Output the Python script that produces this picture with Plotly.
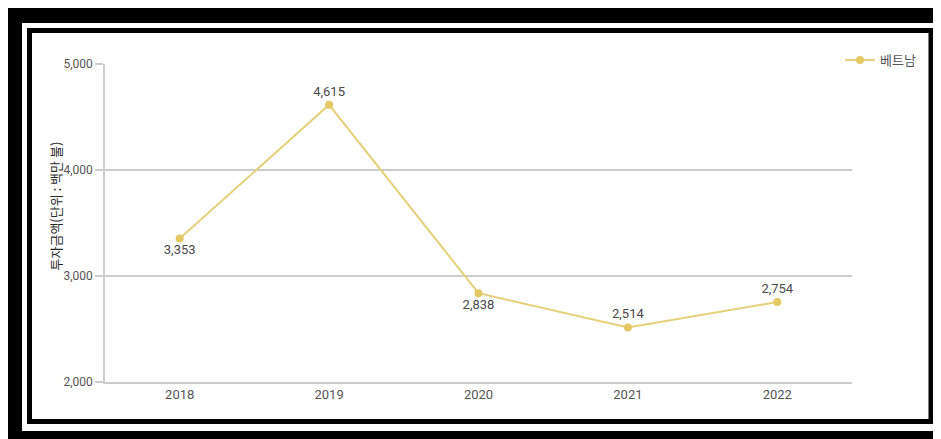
import plotly.graph_objects as go

years = ["2018", "2019", "2020", "2021", "2022"]
vietnam = [3353, 4615, 2838, 2514, 2754]
series_name = "베트남"
y_title = "투자금액(단위 : 백만 불)"
y_ticks = [2000, 3000, 4000, 5000]

# page body has an 8px margin; figure sized to fit the window
OFF = 8
W, H = 941 - OFF, 439 - OFF
L, T = 105 - OFF, 64 - OFF
R, B = W - (852 - OFF), H - (382 - OFF)
PW, PH = W - L - R, H - T - B

def px(x):
    return (x - OFF - L) / PW

def py(y):
    return 1 - (y - OFF - T) / PH

NUM_FONT = "Roboto, sans-serif"
KR_FONT = "Noto Sans CJK KR, Noto Sans, sans-serif"

fig = go.Figure()
fig.add_trace(go.Scatter(
    x=years, y=vietnam, name=series_name,
    mode="lines+markers+text",
    line=dict(color="#E5D07A", width=2),
    marker=dict(color="#E2C964", size=8),
    text=[f"{v:,}" for v in vietnam],
    textposition=["bottom center", "top center", "bottom center", "top center", "top center"],
    textfont=dict(family=NUM_FONT, size=13, color="#4a4a4a"),
    cliponaxis=False,
))

shapes = [
    # thick outer frame
    dict(type="rect", xref="paper", yref="paper", x0=px(8), x1=px(960), y0=py(8), y1=py(460),
         fillcolor="black", line=dict(width=0), layer="below"),
    dict(type="rect", xref="paper", yref="paper", x0=px(22), x1=px(960), y0=py(23), y1=py(431),
         fillcolor="white", line=dict(width=0), layer="below"),
    dict(type="line", xref="paper", yref="paper", x0=px(936), x1=px(936), y0=py(23), y1=py(431),
         line=dict(color="#bbbbbb", width=1), layer="below"),
    # inner thin frame
    dict(type="rect", xref="paper", yref="paper", x0=px(29.5), x1=px(931), y0=py(30.5), y1=py(421.5),
         fillcolor="rgba(0,0,0,0)", line=dict(color="black", width=5), layer="below"),
]

fig.update_layout(
    width=W, height=H,
    margin=dict(l=L, r=R, t=T, b=B, autoexpand=False),
    paper_bgcolor="white", plot_bgcolor="white",
    shapes=shapes,
    showlegend=True,
    legend=dict(x=px(840), y=py(60), xanchor="left", yanchor="middle",
                font=dict(family=KR_FONT, size=13, color="#555555"),
                bgcolor="rgba(0,0,0,0)"),
    annotations=[dict(text=y_title, xref="paper", yref="paper", x=px(43), y=py(206),
                      showarrow=False, textangle=-90,
                      font=dict(family=KR_FONT, size=13, color="#2a2a2a"))],
)
fig.update_xaxes(
    type="category", range=[-0.5, 4.5],
    showline=True, linecolor="#cccccc", linewidth=1.5,
    showgrid=False, ticks="",
    tickfont=dict(family=NUM_FONT, size=13, color="#555555"),
)
fig.update_yaxes(
    range=[2000, 5000], tickvals=y_ticks, tickformat=",",
    showline=True, linecolor="#cccccc", linewidth=1.5,
    showgrid=True, gridcolor="#cccccc", gridwidth=1.5,
    ticks="outside", ticklen=8, tickcolor="#cccccc", tickwidth=1.5,
    tickfont=dict(family=NUM_FONT, size=12, color="#555555"),
    zeroline=False,
)

fig.write_html("out.html")
